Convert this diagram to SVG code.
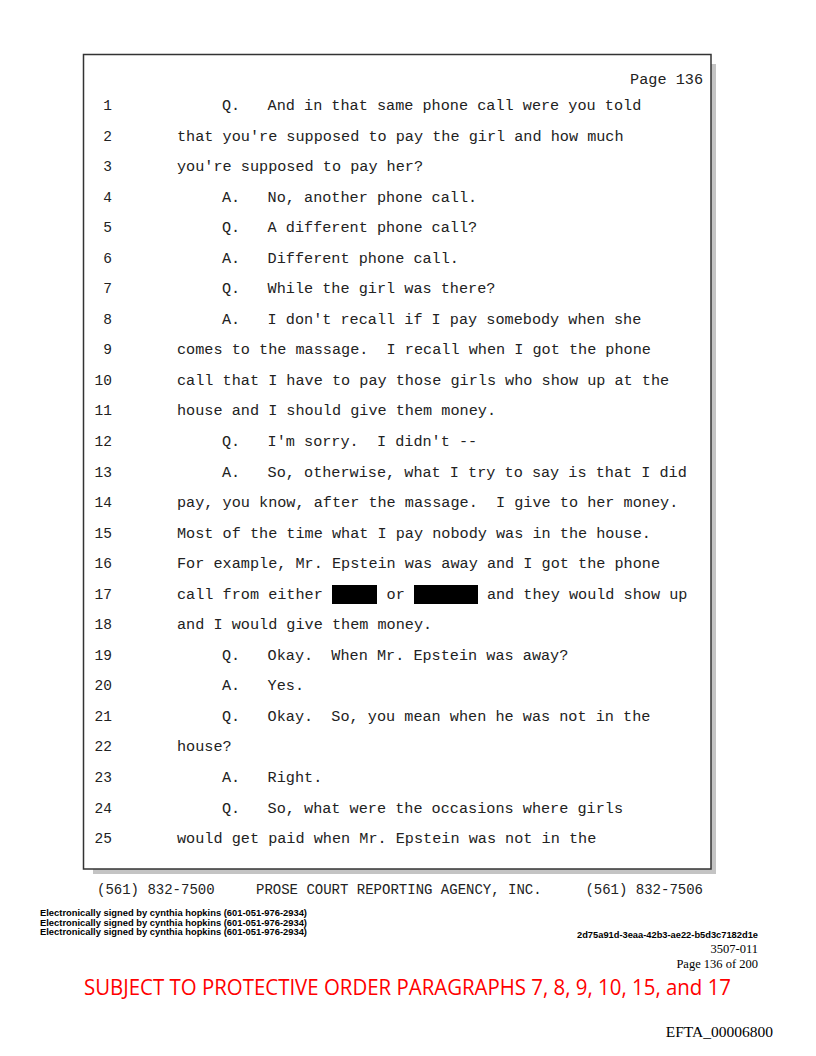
<svg xmlns="http://www.w3.org/2000/svg" width="816" height="1056" viewBox="0 0 816 1056">
<style>
.m{font-family:"Liberation Mono","Courier New",monospace;font-size:15.2px;fill:#222;white-space:pre}
.n{font-family:"Liberation Mono","Courier New",monospace;font-size:14.5px;fill:#222;text-anchor:end}
.f{font-family:"Liberation Mono","Courier New",monospace;font-size:14px;fill:#222;white-space:pre}
.s{font-family:"Liberation Sans","Arial",sans-serif;font-size:9px;font-weight:bold;fill:#000}
.t{font-family:"Liberation Serif","Times New Roman",serif;fill:#000}
</style>
<rect width="816" height="1056" fill="#fff"/>
<g id="page-frame">
<rect x="93" y="64" width="623" height="810" fill="#c4c4c4"/>
<rect x="83.5" y="54.5" width="627.5" height="814.5" fill="#fff" stroke="#333" stroke-width="1.5"/>
</g>
<g id="transcript">
<text class="m" x="703" y="84" text-anchor="end">Page 136</text>
<text class="n" x="112" y="110">1</text><text class="m" xml:space="preserve" x="222" y="110">Q.   And in that same phone call were you told</text>
<text class="n" x="112" y="140.5">2</text><text class="m" xml:space="preserve" x="177" y="140.5">that you're supposed to pay the girl and how much</text>
<text class="n" x="112" y="171">3</text><text class="m" xml:space="preserve" x="177" y="171">you're supposed to pay her?</text>
<text class="n" x="112" y="201.6">4</text><text class="m" xml:space="preserve" x="222" y="201.6">A.   No, another phone call.</text>
<text class="n" x="112" y="232.2">5</text><text class="m" xml:space="preserve" x="222" y="232.2">Q.   A different phone call?</text>
<text class="n" x="112" y="262.7">6</text><text class="m" xml:space="preserve" x="222" y="262.7">A.   Different phone call.</text>
<text class="n" x="112" y="293.2">7</text><text class="m" xml:space="preserve" x="222" y="293.2">Q.   While the girl was there?</text>
<text class="n" x="112" y="323.8">8</text><text class="m" xml:space="preserve" x="222" y="323.8">A.   I don't recall if I pay somebody when she</text>
<text class="n" x="112" y="354.3">9</text><text class="m" xml:space="preserve" x="177" y="354.3">comes to the massage.  I recall when I got the phone</text>
<text class="n" x="112" y="384.9">10</text><text class="m" xml:space="preserve" x="177" y="384.9">call that I have to pay those girls who show up at the</text>
<text class="n" x="112" y="415.4">11</text><text class="m" xml:space="preserve" x="177" y="415.4">house and I should give them money.</text>
<text class="n" x="112" y="446">12</text><text class="m" xml:space="preserve" x="222" y="446">Q.   I'm sorry.  I didn't --</text>
<text class="n" x="112" y="476.5">13</text><text class="m" xml:space="preserve" x="222" y="476.5">A.   So, otherwise, what I try to say is that I did</text>
<text class="n" x="112" y="507">14</text><text class="m" xml:space="preserve" x="177" y="507">pay, you know, after the massage.  I give to her money.</text>
<text class="n" x="112" y="537.6">15</text><text class="m" xml:space="preserve" x="177" y="537.6">Most of the time what I pay nobody was in the house.</text>
<text class="n" x="112" y="568.1">16</text><text class="m" xml:space="preserve" x="177" y="568.1">For example, Mr. Epstein was away and I got the phone</text>
<text class="n" x="112" y="598.7">17</text><text class="m" xml:space="preserve" x="177" y="598.7">call from either       or         and they would show up</text>
<text class="n" x="112" y="629.2">18</text><text class="m" xml:space="preserve" x="177" y="629.2">and I would give them money.</text>
<text class="n" x="112" y="659.8">19</text><text class="m" xml:space="preserve" x="222" y="659.8">Q.   Okay.  When Mr. Epstein was away?</text>
<text class="n" x="112" y="690.3">20</text><text class="m" xml:space="preserve" x="222" y="690.3">A.   Yes.</text>
<text class="n" x="112" y="720.8">21</text><text class="m" xml:space="preserve" x="222" y="720.8">Q.   Okay.  So, you mean when he was not in the</text>
<text class="n" x="112" y="751.4">22</text><text class="m" xml:space="preserve" x="177" y="751.4">house?</text>
<text class="n" x="112" y="781.9">23</text><text class="m" xml:space="preserve" x="222" y="781.9">A.   Right.</text>
<text class="n" x="112" y="812.5">24</text><text class="m" xml:space="preserve" x="222" y="812.5">Q.   So, what were the occasions where girls</text>
<text class="n" x="112" y="843">25</text><text class="m" xml:space="preserve" x="177" y="843">would get paid when Mr. Epstein was not in the</text>
</g>
<g id="redactions">
<rect x="332" y="585" width="45" height="19" fill="#000"/>
<rect x="414" y="585" width="64" height="19" fill="#000"/>
</g>
<g id="footer">
<text class="f" x="97" y="894">(561) 832-7500</text>
<text class="f" x="256" y="894">PROSE COURT REPORTING AGENCY, INC.</text>
<text class="f" x="703" y="894" text-anchor="end">(561) 832-7506</text>
<text class="s" x="40" y="916" textLength="267" lengthAdjust="spacingAndGlyphs">Electronically signed by cynthia hopkins (601-051-976-2934)</text>
<text class="s" x="40" y="925.5" textLength="267" lengthAdjust="spacingAndGlyphs">Electronically signed by cynthia hopkins (601-051-976-2934)</text>
<text class="s" x="40" y="935" textLength="267" lengthAdjust="spacingAndGlyphs">Electronically signed by cynthia hopkins (601-051-976-2934)</text>
<text class="s" x="577" y="938" textLength="181" lengthAdjust="spacingAndGlyphs">2d75a91d-3eaa-42b3-ae22-b5d3c7182d1e</text>
<text class="t" x="758" y="953" font-size="12.5" text-anchor="end">3507-011</text>
<text class="t" x="758" y="968" font-size="12.5" text-anchor="end">Page 136 of 200</text>
<text x="84" y="995" font-family="'Open Sans','Liberation Sans',sans-serif" font-size="21" fill="#f00" textLength="647" lengthAdjust="spacingAndGlyphs">SUBJECT TO PROTECTIVE ORDER PARAGRAPHS 7, 8, 9, 10, 15, and 17</text>
<text class="t" x="773" y="1037" font-size="15.5" text-anchor="end">EFTA_00006800</text>
</g>
</svg>
